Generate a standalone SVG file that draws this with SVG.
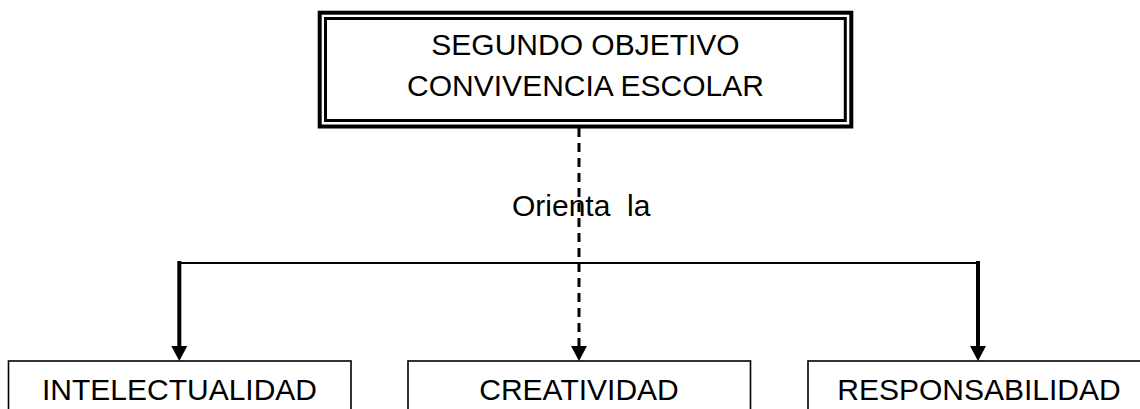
<svg xmlns="http://www.w3.org/2000/svg" width="1140" height="409" viewBox="0 0 1140 409">
  <style>
    text { font-family: "Liberation Sans", Arial, sans-serif; font-size: 30px; fill: #000; }
    .box { fill: #fff; stroke: #000; stroke-width: 1.6; }
    .solid { fill: none; stroke: #000; stroke-width: 4; }
    .thin { fill: none; stroke: #000; stroke-width: 2; }
    .dash { fill: none; stroke: #000; stroke-width: 3; stroke-dasharray: 9 6; }
  </style>
  <defs>
    <marker id="arr" markerUnits="userSpaceOnUse" markerWidth="16" markerHeight="18" viewBox="0 -9 16 18" refX="4" refY="0" orient="auto">
      <path d="M0,-8 L15,0 L0,8 z" fill="#000"/>
    </marker>
  </defs>

  <g id="top">
    <rect x="319.7" y="12.7" width="531.6" height="113.8" fill="#fff" stroke="#000" stroke-width="4"/>
    <rect x="325.5" y="18.5" width="519.8" height="102" fill="none" stroke="#000" stroke-width="3"/>
    <text x="585.5" y="55" text-anchor="middle">SEGUNDO OBJETIVO</text>
    <text x="585.5" y="96" text-anchor="middle">CONVIVENCIA ESCOLAR</text>
  </g>

  <g id="connectors">
    <line class="thin" x1="179.3" y1="263" x2="978" y2="263"/>
    <line class="solid" x1="179.3" y1="261" x2="179.3" y2="350" marker-end="url(#arr)"/>
    <line class="solid" x1="978" y1="261" x2="978" y2="350" marker-end="url(#arr)"/>
    <line class="dash" x1="579" y1="128" x2="579" y2="350" marker-end="url(#arr)"/>
  </g>

  <g id="label">
    <text x="512" y="216" xml:space="preserve">Orienta  la</text>
  </g>

  <g id="intelectualidad">
    <rect class="box" x="8.5" y="361" width="342.5" height="70"/>
    <text x="179.5" y="400" text-anchor="middle">INTELECTUALIDAD</text>
  </g>

  <g id="creatividad">
    <rect class="box" x="408" y="361" width="342.5" height="70"/>
    <text x="579" y="400" text-anchor="middle">CREATIVIDAD</text>
  </g>

  <g id="responsabilidad">
    <rect class="box" x="808" y="361" width="342.5" height="70"/>
    <text x="979" y="400" text-anchor="middle">RESPONSABILIDAD</text>
  </g>
</svg>
